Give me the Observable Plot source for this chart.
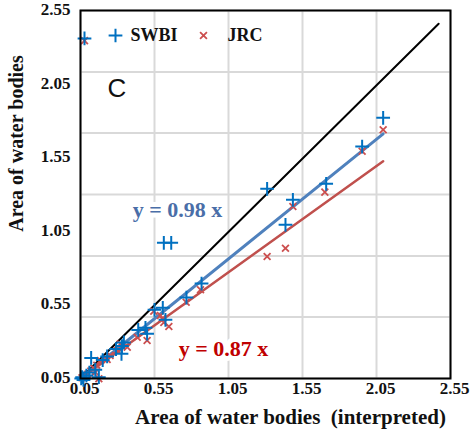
<!DOCTYPE html>
<html>
<head>
<meta charset="utf-8">
<script src="https://cdn.jsdelivr.net/npm/d3@7"></script>
<script src="https://cdn.jsdelivr.net/npm/@observablehq/plot@0.6"></script>
<style>
  html, body { margin: 0; padding: 0; background: #fff; }
  #chart { width: 473px; height: 435px; }
</style>
</head>
<body>
<div id="chart"></div>
<script>
// Tick labels and grid positions (data units as labelled)
const xTicks = [0.05, 0.55, 1.05, 1.55, 2.05, 2.55];
const yTicks = [0.05, 0.55, 1.05, 1.55, 2.05, 2.55];
const yGrid = [0.05, 0.467, 0.883, 1.3, 1.717, 2.133, 2.55];

// SWBI series
const swbiX = [0.077, 2.095, 1.953, 1.710, 1.311, 1.485, 1.435, 0.613, 0.663, 0.868, 0.766, 0.606, 0.550, 0.624, 0.489, 0.440, 0.500, 0.343, 0.330, 0.327, 0.290, 0.230, 0.200, 0.122, 0.174, 0.150, 0.110, 0.090, 0.061, 0.055, 0.070];
const swbiY = [2.360, 1.821, 1.626, 1.373, 1.339, 1.264, 1.094, 0.972, 0.972, 0.695, 0.600, 0.530, 0.517, 0.449, 0.394, 0.380, 0.354, 0.295, 0.270, 0.218, 0.250, 0.200, 0.175, 0.190, 0.059, 0.110, 0.090, 0.070, 0.059, 0.050, 0.040];

// JRC series
const jrcX = [0.077, 2.095, 1.953, 1.701, 1.485, 1.435, 1.311, 0.861, 0.764, 0.545, 0.590, 0.602, 0.613, 0.647, 0.500, 0.433, 0.366, 0.320, 0.298, 0.250, 0.230, 0.185, 0.160, 0.140, 0.120, 0.100, 0.080, 0.060, 0.174, 0.150];
const jrcY = [2.345, 1.740, 1.594, 1.316, 1.218, 0.935, 0.879, 0.653, 0.568, 0.507, 0.478, 0.456, 0.430, 0.403, 0.308, 0.330, 0.263, 0.286, 0.240, 0.206, 0.180, 0.172, 0.140, 0.120, 0.100, 0.080, 0.065, 0.055, 0.048, 0.093];

// Reference 1:1 line and fitted lines (endpoints)
const oneToOneX = [0.05, 2.47];
const oneToOneY = [0.05, 2.46];
const swbiFitX = [0.05, 2.095];
const swbiFitY = [0.05, 1.712];
const jrcFitX = [0.05, 2.095];
const jrcFitY = [0.05, 1.526];

const seriesNames = ["SWBI", "JRC"];
const swbiEq = "y = 0.98 x";
const jrcEq = "y = 0.87 x";
const panelLabel = "C";
const xTitle = "Area of water bodies\u00a0 (interpreted)";
const yTitle = "Area of water bodies";

const swbi = swbiX.map((x, i) => ({x, y: swbiY[i]}));
const jrc = jrcX.map((x, i) => ({x, y: jrcY[i]}));
const line = (xs, ys) => xs.map((x, i) => ({x, y: ys[i]}));

const serif = "'Liberation Serif', 'Times New Roman', serif";
const blue = "#0070c0";
const red = "#cc4f4f";

const chart = Plot.plot({
  width: 473,
  height: 435,
  marginLeft: 80,
  marginRight: 23,
  marginTop: 10,
  marginBottom: 57,
  x: {domain: [0.05, 2.55], axis: null},
  y: {domain: [0.05, 2.55], axis: null},
  style: {background: "white", overflow: "visible"},
  marks: [
    Plot.ruleX(xTicks, {stroke: "#d9d9d9", strokeWidth: 2}),
    Plot.ruleY(yGrid, {stroke: "#d9d9d9", strokeWidth: 2}),
    Plot.axisX(xTicks, {tickSize: 0, tickPadding: 3, dx: 4, fontSize: 17, fontWeight: "bold", fontFamily: serif, fill: "#111", tickFormat: d => d.toFixed(2), label: null}),
    Plot.axisY(yTicks, {tickSize: 0, tickPadding: 10, fontSize: 17, fontWeight: "bold", fontFamily: serif, fill: "#111", tickFormat: d => d.toFixed(2), label: null, dy: -1}),
    Plot.line(line(oneToOneX, oneToOneY), {x: "x", y: "y", stroke: "black", strokeWidth: 2}),
    Plot.line(line(swbiFitX, swbiFitY), {x: "x", y: "y", stroke: "#4f81bd", strokeWidth: 3}),
    Plot.line(line(jrcFitX, jrcFitY), {x: "x", y: "y", stroke: "#c0504d", strokeWidth: 2.5}),
    Plot.dot(jrc, {x: "x", y: "y", symbol: "times", r: 3.2, stroke: red, strokeWidth: 1.8}),
    Plot.dot(swbi, {x: "x", y: "y", symbol: "plus", r: 4.5, stroke: blue, strokeWidth: 2}),
    Plot.frame({stroke: "black", strokeWidth: 2}),
    // legend inside plot
    Plot.dot([seriesNames[0]], {frameAnchor: "top-left", dx: 35, dy: 25, symbol: "plus", r: 4.5, stroke: blue, strokeWidth: 2}),
    Plot.text([seriesNames[0]], {frameAnchor: "top-left", dx: 50, dy: 25, textAnchor: "start", lineAnchor: "middle", fontSize: 18, fontWeight: "bold", fontFamily: serif, fill: "#111"}),
    Plot.dot([seriesNames[1]], {frameAnchor: "top-left", dx: 123, dy: 25, symbol: "times", r: 3.2, stroke: red, strokeWidth: 1.8}),
    Plot.text([seriesNames[1]], {frameAnchor: "top-left", dx: 147, dy: 25, textAnchor: "start", lineAnchor: "middle", fontSize: 18, fontWeight: "bold", fontFamily: serif, fill: "#111"}),
    // panel label
    Plot.text([panelLabel], {frameAnchor: "top-left", dx: 27, dy: 78, textAnchor: "start", lineAnchor: "middle", fontSize: 26, fontFamily: "'Liberation Sans', Arial, sans-serif", fill: "#111"}),
    // equations
    Plot.text([swbiEq], {frameAnchor: "top-left", dx: 97, dy: 199, textAnchor: "middle", lineAnchor: "middle", fontSize: 22, fontWeight: "bold", fontFamily: serif, fill: "#4a6ea8", stroke: "white", strokeWidth: 10, paintOrder: "stroke"}),
    Plot.text([jrcEq], {frameAnchor: "top-left", dx: 143, dy: 338, textAnchor: "middle", lineAnchor: "middle", fontSize: 22, fontWeight: "bold", fontFamily: serif, fill: "#c00000", stroke: "white", strokeWidth: 10, paintOrder: "stroke"}),
    // axis titles
    Plot.text([xTitle], {frameAnchor: "bottom", dx: 25, dy: 39, textAnchor: "middle", lineAnchor: "middle", fontSize: 21, fontWeight: "bold", fontFamily: serif, fill: "#111"}),
    Plot.text([yTitle], {frameAnchor: "left", dx: -64, dy: -51, rotate: -90, textAnchor: "middle", lineAnchor: "middle", fontSize: 20, fontWeight: "bold", fontFamily: serif, fill: "#111"})
  ]
});
document.getElementById("chart").appendChild(chart);
</script>
</body>
</html>
